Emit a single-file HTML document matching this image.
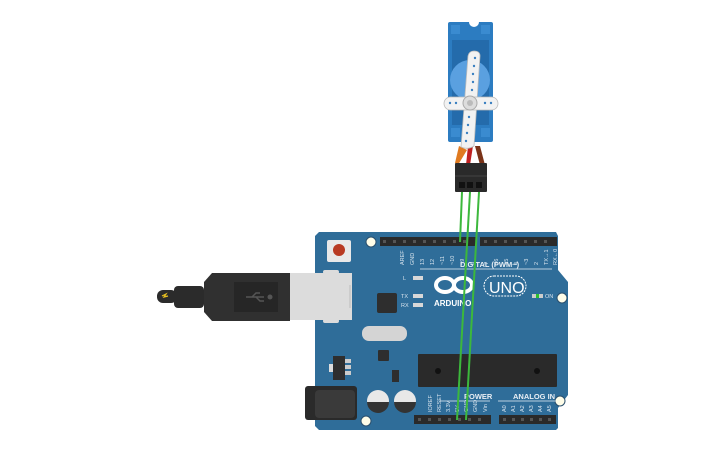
<!DOCTYPE html>
<html><head><meta charset="utf-8"><style>
html,body{margin:0;padding:0;background:#fff;width:725px;height:453px;overflow:hidden}
svg{display:block}
text{font-family:"Liberation Sans",sans-serif}
</style></head><body>
<svg width="725" height="453" viewBox="0 0 725 453" xmlns="http://www.w3.org/2000/svg">
<!-- Board -->
<path d="M319 232 L556 232 L558 236 L558 270 L568 282 L568 395 L558 408 L558 428 L556 430 L319 430 L315 426 L315 236 Z" fill="#2f6d99"/>
<rect x="327" y="240" width="24" height="22" rx="2" fill="#e8e8e8"/>
<circle cx="339" cy="250" r="6" fill="#b83a22"/>
<circle cx="371" cy="242" r="5" fill="#fffde8" stroke="#2a4f6d"/>
<circle cx="562" cy="298" r="5" fill="#fffde8" stroke="#2a4f6d"/>
<circle cx="560" cy="401" r="5" fill="#fffde8" stroke="#2a4f6d"/>
<circle cx="366" cy="421" r="5" fill="#fffde8" stroke="#2a4f6d"/>
<!-- headers -->
<rect x="380" y="237" width="96" height="9" fill="#2a2a2a"/>
<rect x="480" y="237" width="77" height="9" fill="#2a2a2a"/>
<rect x="414" y="415" width="77" height="9" fill="#2a2a2a"/>
<rect x="499" y="415" width="57" height="9" fill="#2a2a2a"/>
<g fill="#555">
<rect x="383" y="240" width="3" height="3"/><rect x="393" y="240" width="3" height="3"/><rect x="403" y="240" width="3" height="3"/><rect x="413" y="240" width="3" height="3"/><rect x="423" y="240" width="3" height="3"/><rect x="433" y="240" width="3" height="3"/><rect x="443" y="240" width="3" height="3"/><rect x="453" y="240" width="3" height="3"/><rect x="463" y="240" width="3" height="3"/>
<rect x="484" y="240" width="3" height="3"/><rect x="494" y="240" width="3" height="3"/><rect x="504" y="240" width="3" height="3"/><rect x="514" y="240" width="3" height="3"/><rect x="524" y="240" width="3" height="3"/><rect x="534" y="240" width="3" height="3"/><rect x="544" y="240" width="3" height="3"/>
<rect x="418" y="418" width="3" height="3"/><rect x="428" y="418" width="3" height="3"/><rect x="438" y="418" width="3" height="3"/><rect x="448" y="418" width="3" height="3"/><rect x="458" y="418" width="3" height="3"/><rect x="468" y="418" width="3" height="3"/><rect x="478" y="418" width="3" height="3"/>
<rect x="503" y="418" width="3" height="3"/><rect x="512" y="418" width="3" height="3"/><rect x="521" y="418" width="3" height="3"/><rect x="530" y="418" width="3" height="3"/><rect x="539" y="418" width="3" height="3"/><rect x="548" y="418" width="3" height="3"/>
</g>
<line x1="420" y1="269" x2="552" y2="269" stroke="#b9cfe0" stroke-width="1"/>
<text x="460" y="267" font-size="7.5" font-weight="bold" fill="#e8eef4">DIGITAL (PWM~)</text>
<g font-size="5.5" fill="#d8e4ee">
<text transform="translate(404,265) rotate(-90)">AREF</text>
<text transform="translate(414,265) rotate(-90)">GND</text>
<text transform="translate(424,265) rotate(-90)">13</text>
<text transform="translate(434,265) rotate(-90)">12</text>
<text transform="translate(444,265) rotate(-90)">~11</text>
<text transform="translate(454,265) rotate(-90)">~10</text>
<text transform="translate(464,265) rotate(-90)">~9</text>
<text transform="translate(474,265) rotate(-90)">8</text>
<text transform="translate(488,265) rotate(-90)">7</text>
<text transform="translate(498,265) rotate(-90)">~6</text>
<text transform="translate(508,265) rotate(-90)">~5</text>
<text transform="translate(518,265) rotate(-90)">4</text>
<text transform="translate(528,265) rotate(-90)">~3</text>
<text transform="translate(538,265) rotate(-90)">2</text>
<text transform="translate(548,265) rotate(-90)">TX→1</text>
<text transform="translate(557,265) rotate(-90)">RX←0</text>
<text transform="translate(432,412) rotate(-90)">IOREF</text>
<text transform="translate(441,412) rotate(-90)">RESET</text>
<text transform="translate(450,412) rotate(-90)">3.3V</text>
<text transform="translate(459,412) rotate(-90)">5V</text>
<text transform="translate(468,412) rotate(-90)">GND</text>
<text transform="translate(477,412) rotate(-90)">GND</text>
<text transform="translate(487,412) rotate(-90)">Vin</text>
<text transform="translate(506,412) rotate(-90)">A0</text>
<text transform="translate(515,412) rotate(-90)">A1</text>
<text transform="translate(524,412) rotate(-90)">A2</text>
<text transform="translate(533,412) rotate(-90)">A3</text>
<text transform="translate(542,412) rotate(-90)">A4</text>
<text transform="translate(551,412) rotate(-90)">A5</text>
<text x="403" y="280" font-size="5.5">L</text>
<text x="401" y="298" font-size="5.5">TX</text>
<text x="401" y="307" font-size="5.5">RX</text>
<text x="545" y="298" font-size="5.5">ON</text>
</g>
<rect x="413" y="276" width="10" height="4" fill="#d8d8d8"/>
<rect x="413" y="294" width="10" height="4" fill="#d8d8d8"/>
<rect x="413" y="303" width="10" height="4" fill="#d8d8d8"/>
<rect x="532" y="294" width="11" height="4" fill="#ccc"/><rect x="536" y="294" width="3" height="4" fill="#2ec02e"/>
<!-- logo -->
<g fill="none" stroke="#fff" stroke-width="4">
<ellipse cx="445" cy="285" rx="9" ry="7"/><ellipse cx="463" cy="285" rx="9" ry="7"/>
</g>
<rect x="484" y="276" width="42" height="20" rx="10" fill="none" stroke="#fff" stroke-width="1" stroke-dasharray="2 1"/>
<text x="489" y="293" font-size="16" fill="#fff">UNO</text>
<text x="434" y="306" font-size="8" font-weight="bold" fill="#fff">ARDUINO</text>
<text x="464" y="399" font-size="7.5" font-weight="bold" fill="#e8eef4">POWER</text>
<text x="513" y="399" font-size="7.5" font-weight="bold" fill="#e8eef4">ANALOG IN</text>
<line x1="440" y1="401" x2="490" y2="401" stroke="#b9cfe0"/><line x1="498" y1="401" x2="556" y2="401" stroke="#b9cfe0"/>
<!-- components -->
<rect x="377" y="293" width="20" height="20" rx="2" fill="#2e2e2e"/>
<rect x="362" y="326" width="45" height="15" rx="7" fill="#d4d4d4"/>
<rect x="378" y="350" width="11" height="11" rx="1" fill="#2e2e2e"/>
<rect x="418" y="354" width="139" height="33" rx="1" fill="#2a2a2a"/>
<circle cx="438" cy="371" r="3" fill="#111"/><circle cx="537" cy="371" r="3" fill="#111"/>
<rect x="333" y="356" width="12" height="24" fill="#2e2e2e"/><rect x="345" y="359" width="6" height="4" fill="#ccc"/><rect x="345" y="365" width="6" height="4" fill="#ccc"/><rect x="345" y="371" width="6" height="4" fill="#ccc"/>
<rect x="329" y="364" width="4" height="8" fill="#ddd"/>
<rect x="392" y="370" width="7" height="12" fill="#2e2e2e"/>
<rect x="305" y="386" width="52" height="34" rx="3" fill="#2a2a2a"/><rect x="315" y="390" width="40" height="28" rx="4" fill="#3a3a3a"/>
<circle cx="378" cy="401" r="11" fill="#e8e8e8"/><path d="M367 402 a11 11 0 0 0 22 0 Z" fill="#333"/>
<circle cx="405" cy="401" r="11" fill="#e8e8e8"/><path d="M394 402 a11 11 0 0 0 22 0 Z" fill="#333"/>
<!-- USB cable (on top of board) -->
<rect x="157" y="290" width="20" height="13" rx="6" fill="#2b2b2b"/>
<path d="M162 296 l4 -2 -2 3 4 -1" stroke="#e8c020" stroke-width="1.2" fill="none"/>
<rect x="174" y="286" width="30" height="22" rx="4" fill="#2b2b2b"/>
<path d="M204 282 L212 273 L290 273 L290 321 L212 321 L204 312 Z" fill="#303030"/>
<rect x="234" y="282" width="44" height="30" fill="#262626"/>
<path d="M246 297 h18 M252 297 l4 -4 h4 M256 297 l4 4 h4" stroke="#555" stroke-width="1.5" fill="none"/>
<circle cx="270" cy="297" r="2.5" fill="#555"/>
<rect x="290" y="273" width="62" height="47" fill="#dcdcdc"/>
<rect x="323" y="270" width="16" height="4" rx="2" fill="#dcdcdc"/>
<rect x="323" y="319" width="16" height="4" rx="2" fill="#dcdcdc"/>
<line x1="350" y1="285" x2="350" y2="308" stroke="#bbb"/>
<!-- Servo -->
<rect x="448" y="22" width="45" height="120" rx="2" fill="#2c7cc1"/>
<rect x="452" y="40" width="37" height="85" fill="#246bab"/>
<circle cx="474" cy="22" r="5" fill="#fff"/>
<rect x="451" y="25" width="9" height="9" fill="#3a8bd0"/><rect x="481" y="25" width="9" height="9" fill="#3a8bd0"/>
<rect x="451" y="128" width="9" height="9" fill="#3a8bd0"/><rect x="481" y="128" width="9" height="9" fill="#3a8bd0"/>
<circle cx="470" cy="80" r="20" fill="#5aa0e0"/>
<path d="M459 146 L467 150 L458 165 L455 163 Z" fill="#e07a20"/>
<path d="M468 146 L473 146 L470 165 L466 165 Z" fill="#c02020"/>
<path d="M475 146 L480 146 L485 165 L480 165 Z" fill="#7a3318"/>
<g fill="#f2f2f2" stroke="#bbb" stroke-width="0.8">
<path d="M474 51 Q480 51 480 56 L474 146 Q468 150 461 147 L468 56 Q469 51 474 51 Z"/>
<rect x="444" y="97" width="54" height="13" rx="6.5"/>
</g>
<g fill="#3a7fc0">
<circle cx="475" cy="58" r="1.2"/><circle cx="474" cy="66" r="1.2"/><circle cx="473" cy="74" r="1.2"/><circle cx="473" cy="82" r="1.2"/><circle cx="472" cy="90" r="1.2"/>
<circle cx="469" cy="117" r="1.2"/><circle cx="468" cy="125" r="1.2"/><circle cx="467" cy="133" r="1.2"/><circle cx="466" cy="141" r="1.2"/>
<circle cx="450" cy="103" r="1.2"/><circle cx="456" cy="103" r="1.2"/><circle cx="485" cy="103" r="1.2"/><circle cx="491" cy="103" r="1.2"/>
</g>
<circle cx="470" cy="103" r="7" fill="#ddd" stroke="#aaa"/>
<circle cx="470" cy="103" r="3" fill="#bbb"/>
<!-- connector -->
<rect x="455" y="163" width="32" height="29" rx="1" fill="#2a2a2a"/>
<line x1="455" y1="176" x2="487" y2="176" stroke="#444"/>
<rect x="459" y="182" width="6" height="6" fill="#111"/><rect x="467" y="182" width="6" height="6" fill="#111"/><rect x="476" y="182" width="6" height="6" fill="#111"/>
<!-- wires -->
<g stroke="#3cb83c" stroke-width="2" fill="none">
<line x1="462" y1="192" x2="460" y2="242"/>
<line x1="470" y1="192" x2="457" y2="420"/>
<line x1="479" y1="192" x2="466" y2="420"/>
</g>
</svg>
</body></html>
